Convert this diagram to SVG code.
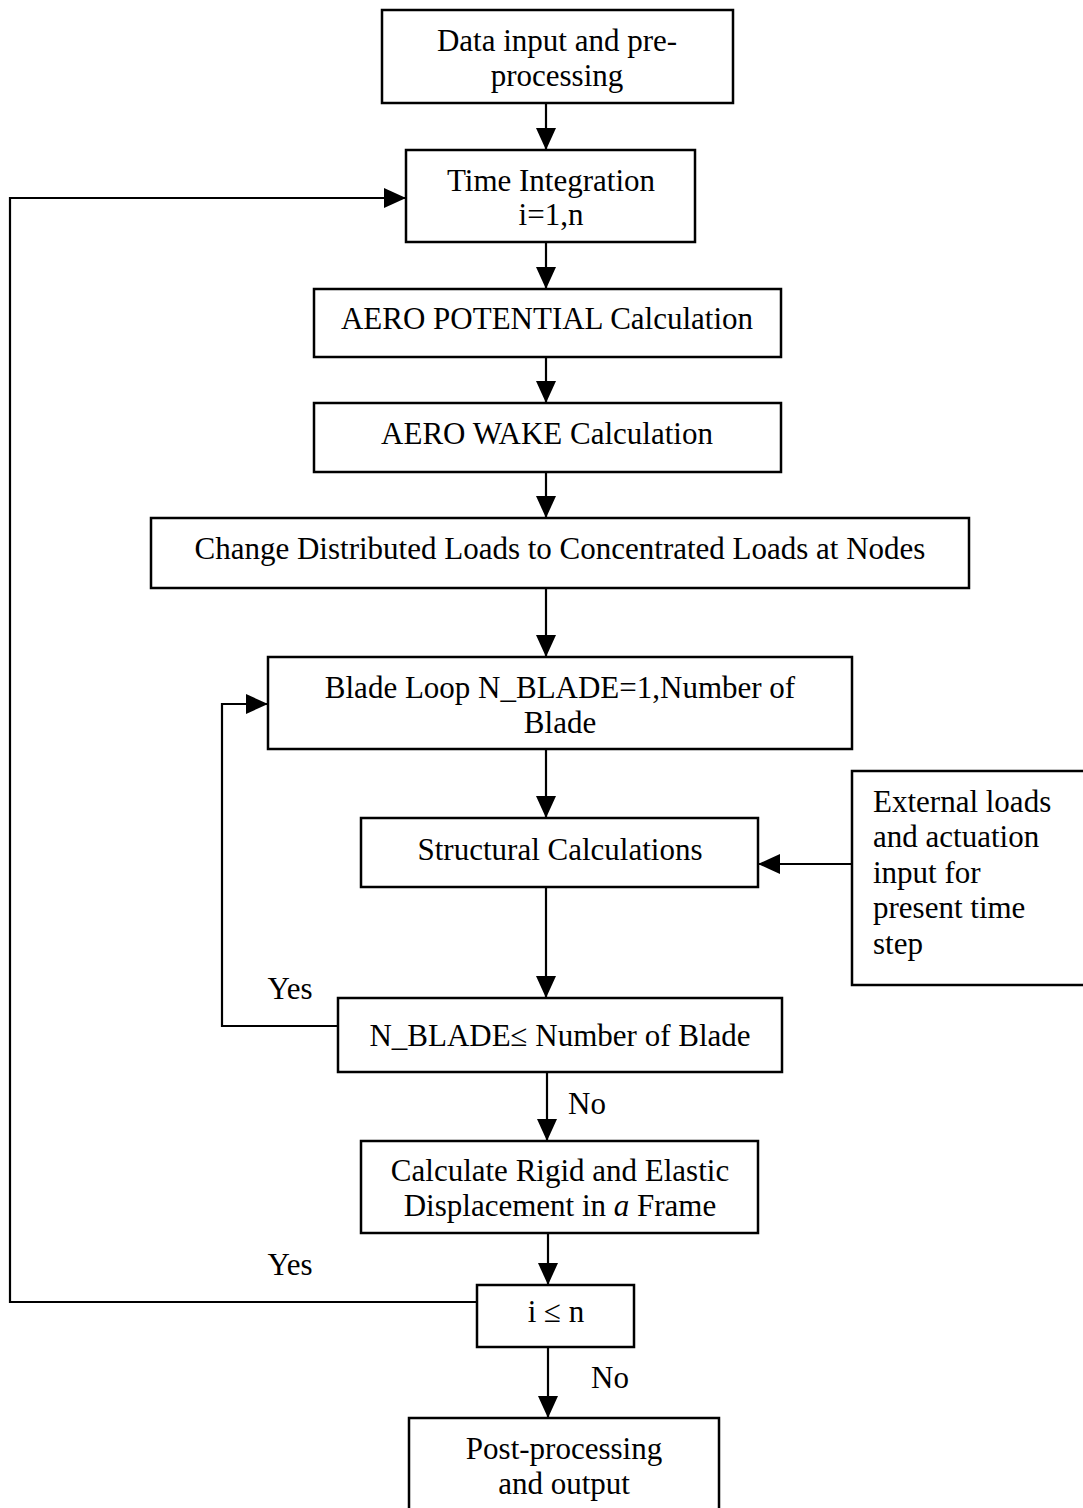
<svg xmlns="http://www.w3.org/2000/svg" width="1083" height="1508" viewBox="0 0 1083 1508">
<style>
.box{fill:#fff;stroke:#000;stroke-width:2.5}
.t{font-family:"Liberation Serif","Times New Roman",serif;font-size:31px;fill:#000;text-anchor:middle}
.tl{font-family:"Liberation Serif","Times New Roman",serif;font-size:31px;fill:#000}
.c{fill:none;stroke:#000;stroke-width:2.2}
</style>
<defs>
<marker id="ah" markerWidth="22" markerHeight="20" refX="22" refY="10" orient="auto" markerUnits="userSpaceOnUse">
<path d="M0,0 L22,10 L0,20 Z" fill="#000"/>
</marker>
</defs>
<rect width="1083" height="1508" fill="#fff"/>
<g id="connectors">
<line class="c" x1="546" y1="103" x2="546" y2="150" marker-end="url(#ah)"/>
<line class="c" x1="546" y1="242" x2="546" y2="289" marker-end="url(#ah)"/>
<line class="c" x1="546" y1="357" x2="546" y2="403" marker-end="url(#ah)"/>
<line class="c" x1="546" y1="472" x2="546" y2="518" marker-end="url(#ah)"/>
<line class="c" x1="546" y1="588" x2="546" y2="657" marker-end="url(#ah)"/>
<line class="c" x1="546" y1="749" x2="546" y2="818" marker-end="url(#ah)"/>
<line class="c" x1="546" y1="887" x2="546" y2="998" marker-end="url(#ah)"/>
<line class="c" x1="547" y1="1072" x2="547" y2="1141" marker-end="url(#ah)"/>
<line class="c" x1="548" y1="1233" x2="548" y2="1285" marker-end="url(#ah)"/>
<line class="c" x1="548" y1="1347" x2="548" y2="1418" marker-end="url(#ah)"/>
<line class="c" x1="852" y1="864" x2="758" y2="864" marker-end="url(#ah)"/>
<polyline class="c" points="338,1026 222,1026 222,704 268,704" marker-end="url(#ah)"/>
<polyline class="c" points="477,1302 10,1302 10,198 406,198" marker-end="url(#ah)"/>
<text class="t" x="290" y="999">Yes</text>
<text class="t" x="587" y="1114">No</text>
<text class="t" x="290" y="1275">Yes</text>
<text class="t" x="610" y="1388">No</text>
</g>
<g id="n1"><rect class="box" x="382" y="10" width="351" height="93"/>
<text class="t" x="557" y="51">Data input and pre-</text><text class="t" x="557" y="86">processing</text></g>
<g id="n2"><rect class="box" x="406" y="150" width="289" height="92"/>
<text class="t" x="551" y="191">Time Integration</text><text class="t" x="551" y="225">i=1,n</text></g>
<g id="n3"><rect class="box" x="314" y="289" width="467" height="68"/>
<text class="t" x="547" y="329">AERO POTENTIAL Calculation</text></g>
<g id="n4"><rect class="box" x="314" y="403" width="467" height="69"/>
<text class="t" x="547" y="444">AERO WAKE Calculation</text></g>
<g id="n5"><rect class="box" x="151" y="518" width="818" height="70"/>
<text class="t" x="560" y="559">Change Distributed Loads to Concentrated Loads at Nodes</text></g>
<g id="n6"><rect class="box" x="268" y="657" width="584" height="92"/>
<text class="t" x="560" y="698">Blade Loop N_BLADE=1,Number of</text><text class="t" x="560" y="733">Blade</text></g>
<g id="n7"><rect class="box" x="361" y="818" width="397" height="69"/>
<text class="t" x="560" y="860">Structural Calculations</text></g>
<g id="n8"><rect class="box" x="852" y="771" width="240" height="214"/>
<text class="tl" x="873" y="812">External loads</text><text class="tl" x="873" y="847">and actuation</text><text class="tl" x="873" y="883">input for</text><text class="tl" x="873" y="918">present time</text><text class="tl" x="873" y="954">step</text></g>
<g id="n9"><rect class="box" x="338" y="998" width="444" height="74"/>
<text class="t" x="560" y="1046">N_BLADE≤ Number of Blade</text></g>
<g id="n10"><rect class="box" x="361" y="1141" width="397" height="92"/>
<text class="t" x="560" y="1181">Calculate Rigid and Elastic</text><text class="t" x="560" y="1216">Displacement in <tspan font-style="italic">a</tspan> Frame</text></g>
<g id="n11"><rect class="box" x="477" y="1285" width="157" height="62"/>
<text class="t" x="556" y="1322">i ≤ n</text></g>
<g id="n12"><rect class="box" x="409" y="1418" width="310" height="100"/>
<text class="t" x="564" y="1459">Post-processing</text><text class="t" x="564" y="1494">and output</text></g>
</svg>
